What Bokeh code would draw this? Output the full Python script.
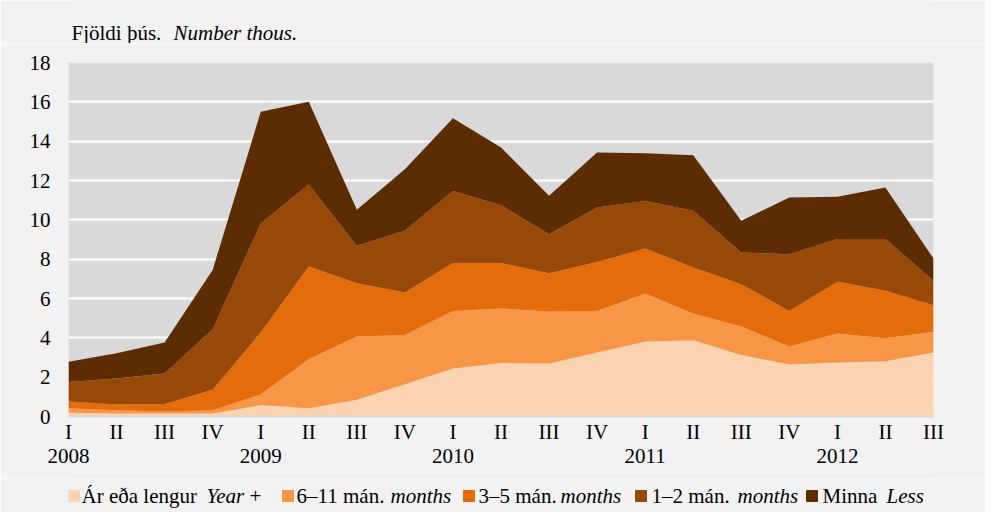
from bokeh.plotting import figure
from bokeh.models import Range1d, FixedTicker, ColumnDataSource
from bokeh.layouts import column
from bokeh.core.properties import value
from bokeh.embed import file_html
from bokeh.resources import INLINE

quarters = ["I", "II", "III", "IV"] * 4 + ["I", "II", "III"]
years = ["2008", "2009", "2010", "2011", "2012"]

year_plus = [0.19, 0.15, 0.15, 0.15, 0.58, 0.42, 0.85, 1.64, 2.44, 2.72, 2.69, 3.25, 3.81, 3.88, 3.13, 2.64, 2.75, 2.81, 3.25]
m6_11 = [0.23, 0.17, 0.10, 0.17, 0.54, 2.51, 3.22, 2.51, 2.93, 2.77, 2.65, 2.12, 2.44, 1.36, 1.45, 0.92, 1.47, 1.17, 1.06]
m3_5 = [0.34, 0.29, 0.38, 1.04, 3.15, 4.70, 2.71, 2.15, 2.43, 2.31, 1.95, 2.49, 2.29, 2.33, 2.15, 1.81, 2.63, 2.41, 1.35]
m1_2 = [1.00, 1.32, 1.56, 3.08, 5.54, 4.17, 1.90, 3.14, 3.67, 2.94, 1.98, 2.77, 2.42, 2.89, 1.61, 2.88, 2.17, 2.63, 1.24]
less = [1.02, 1.29, 1.57, 3.01, 5.68, 4.20, 1.83, 3.13, 3.70, 2.94, 1.95, 2.79, 2.43, 2.83, 1.61, 2.88, 2.15, 2.62, 1.13]

series_names = ["year_plus", "m6_11", "m3_5", "m1_2", "less"]
colors = ["#fcd3b1", "#f79646", "#e46c0a", "#984807", "#5c2c03"]
legend_main = ["Ár eða lengur", "6–11 mán.", "3–5 mán.", "1–2 mán.", "Minna"]
legend_italic = ["Year", "months", "months", "months", "Less"]
title_main = "Fjöldi þús."
title_italic = "Number thous."

FONT = "Liberation Serif"
FS = "21px"
PANEL = "#f2f2f2"

# page-pixel extent of the chart frame (text strips share the same frame columns)
FRAME_L, FRAME_R = 76, 941


def text_fig(height, top):
    """Strip figure whose coordinates equal page pixels (y downward)."""
    f = figure(width=985, height=height, output_backend="svg", toolbar_location=None,
               x_range=Range1d(FRAME_L, FRAME_R), y_range=Range1d(top + height, top),
               min_border=0)
    f.axis.visible = False
    f.grid.grid_line_color = None
    f.outline_line_color = None
    f.background_fill_color = PANEL
    f.border_fill_color = PANEL
    return f


# ---- title strip (page y 8..51)
t = text_fig(43, 8)
t.text(x=[79], y=[40], text=[title_main], text_font=value(FONT), text_font_size=FS,
       text_color="black", text_baseline="middle")
t.text(x=[181], y=[40], text=[title_italic], text_font=value(FONT), text_font_size=FS,
       text_font_style="italic", text_color="black", text_baseline="middle")

# ---- main chart (page y 51..486)
x = list(range(len(quarters)))
src = ColumnDataSource(dict(x=x, year_plus=year_plus, m6_11=m6_11, m3_5=m3_5, m1_2=m1_2, less=less))

p = figure(frame_width=865, frame_height=354, output_backend="svg", toolbar_location=None,
           x_range=Range1d(0, len(quarters) - 1), y_range=Range1d(0, 18),
           min_border_left=68, min_border_right=52, min_border_top=19, min_border_bottom=62)
p.background_fill_color = "#d9d9d9"
p.border_fill_color = PANEL
p.outline_line_color = None

p.varea_stack(stackers=series_names, x="x", color=colors, source=src)

p.xgrid.grid_line_color = None
p.ygrid.grid_line_color = "white"
p.ygrid.grid_line_width = 2
p.ygrid.ticker = FixedTicker(ticks=list(range(0, 19, 2)))

p.yaxis.ticker = FixedTicker(ticks=list(range(0, 19, 2)))
p.yaxis.axis_line_color = None
p.yaxis.major_tick_line_color = None
p.yaxis.minor_tick_line_color = None
p.yaxis.major_tick_out = 0
p.yaxis.major_tick_in = 0
p.yaxis.minor_tick_out = 0
p.yaxis.major_label_standoff = 18
p.yaxis.major_label_text_font = FONT
p.yaxis.major_label_text_font_size = FS
p.yaxis.major_label_text_color = "black"

overrides = {i: q for i, q in enumerate(quarters)}
for k, yr in enumerate(years):
    overrides[4 * k] = "I\n" + yr
p.xaxis.ticker = FixedTicker(ticks=x)
p.xaxis.major_label_overrides = overrides
p.xaxis.axis_line_color = "#d9d9d9"
p.xaxis.axis_line_width = 2
p.xaxis.major_tick_line_color = None
p.xaxis.minor_tick_line_color = None
p.xaxis.major_tick_out = 0
p.xaxis.major_tick_in = 0
p.xaxis.minor_tick_out = 0
p.xaxis.major_label_standoff = 3
p.xaxis.major_label_text_font = FONT
p.xaxis.major_label_text_font_size = FS
p.xaxis.major_label_text_color = "black"
p.xaxis.major_label_text_line_height = 1.0

# ---- legend strip (page y 486..520)
lg = text_fig(34, 486)
sw_x = [76, 290, 471, 643, 814]
main_x = [89, 304, 486, 659, 830]
ital_x = [214, 398, 568, 745, 894]
lg.quad(left=sw_x, right=[s + 11 for s in sw_x], top=[498] * 5, bottom=[509] * 5,
        color=colors)
lg.text(x=main_x, y=[503] * 5, text=legend_main, text_font=value(FONT), text_font_size=FS,
        text_color="black", text_baseline="middle")
lg.text(x=ital_x, y=[503] * 5, text=legend_italic, text_font=value(FONT), text_font_size=FS,
        text_font_style="italic", text_color="black", text_baseline="middle")
lg.text(x=[257], y=[503], text=["+"], text_font=value(FONT), text_font_size=FS,
        text_color="black", text_baseline="middle")

layout = column(t, p, lg, spacing=0)
open("out.html", "w").write(file_html(layout, INLINE))
